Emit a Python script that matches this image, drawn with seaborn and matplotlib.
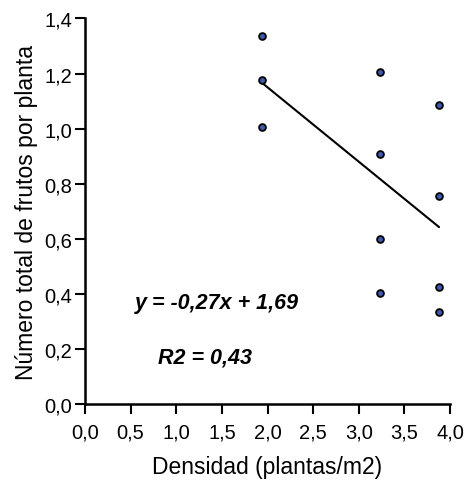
import matplotlib
matplotlib.use("Agg")
import matplotlib.pyplot as plt
import seaborn as sns
import pandas as pd
import numpy as np
from matplotlib.ticker import FuncFormatter, MultipleLocator

densidad = [1.94, 1.94, 1.94, 3.23, 3.23, 3.23, 3.23, 3.88, 3.88, 3.88, 3.88]
frutos = [1.335, 1.177, 1.005, 1.204, 0.908, 0.60, 0.404, 1.087, 0.755, 0.424, 0.335]
slope = -0.27
intercept = 1.69

df = pd.DataFrame({"x": densidad, "y": frutos})
xs = np.array([min(densidad), max(densidad)])
line_df = pd.DataFrame({"x": xs, "y": slope * xs + intercept})

sns.set_style("ticks")
plt.rcParams['font.family'] = ['Liberation Sans', 'DejaVu Sans']
plt.rcParams['text.color'] = 'black'
plt.rcParams['axes.labelcolor'] = 'black'

fig = plt.figure(figsize=(4.68, 4.81), dpi=100)
ax = fig.add_axes([0.1816, 0.158, 0.78, 0.8015])

sns.lineplot(data=line_df, x="x", y="y", ax=ax, color="black", lw=1.5)
sns.scatterplot(data=df, x="x", y="y", ax=ax, s=24, color="#3a5bb0",
                edgecolor="black", linewidth=1.3, zorder=3)

ax.set_xlim(0, 4)
ax.set_ylim(0, 1.4)
ax.xaxis.set_major_locator(MultipleLocator(0.5))
ax.yaxis.set_major_locator(MultipleLocator(0.2))
fmt = FuncFormatter(lambda v, p: f"{v:.1f}".replace(".", ","))
ax.xaxis.set_major_formatter(fmt)
ax.yaxis.set_major_formatter(fmt)
ax.tick_params(direction="out", length=7, width=1.5, labelsize=14.5, colors="black")
ax.tick_params(axis="x", pad=6)
ax.tick_params(axis="y", pad=2)
for s in ["left", "bottom"]:
    ax.spines[s].set_linewidth(1.8)
    ax.spines[s].set_color("black")
sns.despine(ax=ax)
ax.set_xlabel("Densidad (plantas/m2)", fontsize=16.5, labelpad=10)
ax.set_ylabel("Número total de frutos por planta", fontsize=16.5, labelpad=5)

ax.text(0.55, 0.349, "y = -0,27x + 1,69", fontsize=15.5, fontweight="bold",
        fontstyle="italic", va="baseline", ha="left")
ax.text(0.80, 0.151, "R2 = 0,43", fontsize=15.5, fontweight="bold",
        fontstyle="italic", va="baseline", ha="left")

fig.savefig("out.png", dpi=100)
